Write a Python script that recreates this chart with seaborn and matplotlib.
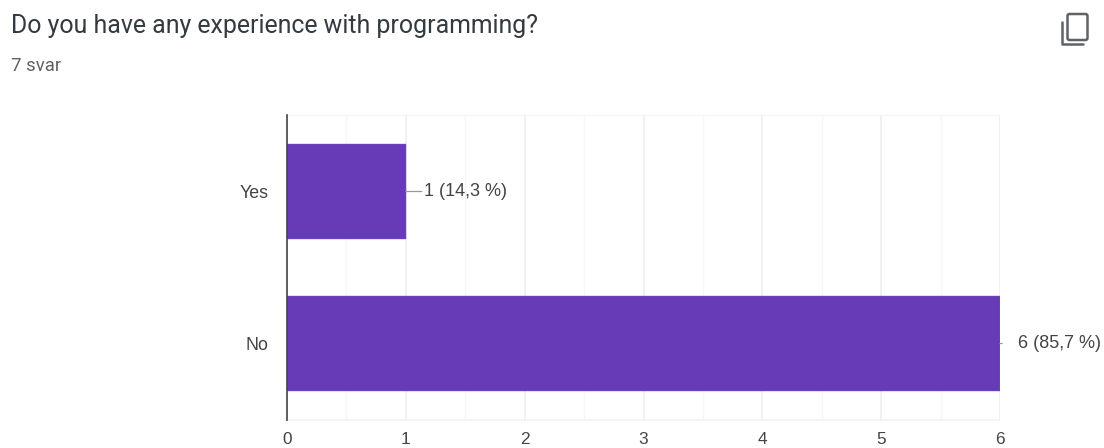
import matplotlib
matplotlib.use("Agg")
import matplotlib.pyplot as plt
import seaborn as sns
import pandas as pd
from matplotlib.lines import Line2D
from matplotlib.patches import FancyBboxPatch
from matplotlib.transforms import IdentityTransform

title = "Do you have any experience with programming?"
subtitle = "7 svar"
categories = ["Yes", "No"]
counts = [1, 6]
value_labels = ["1 (14,3 %)", "6 (85,7 %)"]
major_ticks = [0, 1, 2, 3, 4, 5, 6]
minor_ticks = [0.5, 1.5, 2.5, 3.5, 4.5, 5.5]

W, H = 1104, 448
sns.set_theme(style="white")
plt.rcParams["font.family"] = ["Liberation Sans", "DejaVu Sans"]

fig = plt.figure(figsize=(W / 100, H / 100), dpi=100, facecolor="white")
L, R, T, B = 287, 1000, 115.5, 419.5
ax = fig.add_axes([L / W, 1 - B / H, (R - L) / W, (B - T) / H])

df = pd.DataFrame({"category": categories, "count": counts})
sns.barplot(data=df, y="category", x="count", orient="h", color="#673ab7",
            saturation=1, width=0.625, ax=ax, zorder=3, edgecolor="#7e57c2", linewidth=0.3)

ax.set_xlim(0, 6)
ax.set_ylim(1.5, -0.5)
ax.set_xlabel("")
ax.set_ylabel("")
ax.set_xticks(major_ticks)
ax.set_xticks(minor_ticks, minor=True)
ax.grid(True, axis="x", which="major", color="#f0f0f0", lw=1.3, zorder=0)
ax.grid(True, axis="x", which="minor", color="#f7f7f7", lw=1.0, zorder=0)
ax.tick_params(axis="x", which="both", length=0, pad=9.2, labelsize=12.4, labelcolor="#444444")
ax.tick_params(axis="y", length=0, pad=13.6, labelsize=12.8, labelcolor="#444444")
for lab in ax.get_yticklabels():
    lab.set_verticalalignment("center_baseline")
for s in ["top", "right", "bottom"]:
    ax.spines[s].set_visible(False)
ax.spines["left"].set_color("#444444")
ax.spines["left"].set_linewidth(1.2)
ax.spines["left"].set_zorder(5)
ax.hlines(-0.5, 0, 6, color="#f7f7f7", lw=1, zorder=0, clip_on=False)
ax.hlines(1.5, 0, 6, color="#f4f4f4", lw=1.3, zorder=0, clip_on=False)

# value labels with their short leader lines
for i, (c, lab) in enumerate(zip(counts, value_labels)):
    ax.annotate(lab, xy=(c, i), xytext=(13.2, 0), textcoords="offset points",
                va="center", ha="left", fontsize=13, color="#444444", annotation_clip=False)
    ax.annotate("", xy=(c, i), xytext=(11.5 if c == counts[0] else 1.5, 0), textcoords="offset points",
                annotation_clip=False,
                arrowprops=dict(arrowstyle="-", color="#999999", lw=0.9, shrinkA=0, shrinkB=0))

fig.text(11 / W, 1 - 25.5 / H, title, family="Roboto", fontsize=17.95, color="#333a40", va="center", ha="left")
fig.text(11 / W, 1 - 66 / H, subtitle, family="Roboto", fontsize=13.4, color="#5f6368", va="center", ha="left")


def px(x, y):
    return (x, H - y)


icon = "#5f6368"
rx0, ry0 = px(1067.5, 40)
fig.add_artist(FancyBboxPatch((rx0, ry0), 20, 26, boxstyle="round,pad=0,rounding_size=2",
                              fc="none", ec=icon, lw=1.8, transform=IdentityTransform()))
xs, ys = zip(px(1062, 22), px(1062, 44), px(1083, 44))
fig.add_artist(Line2D(xs, ys, color=icon, lw=1.8, transform=IdentityTransform()))

fig.savefig("out.png", dpi=100)
